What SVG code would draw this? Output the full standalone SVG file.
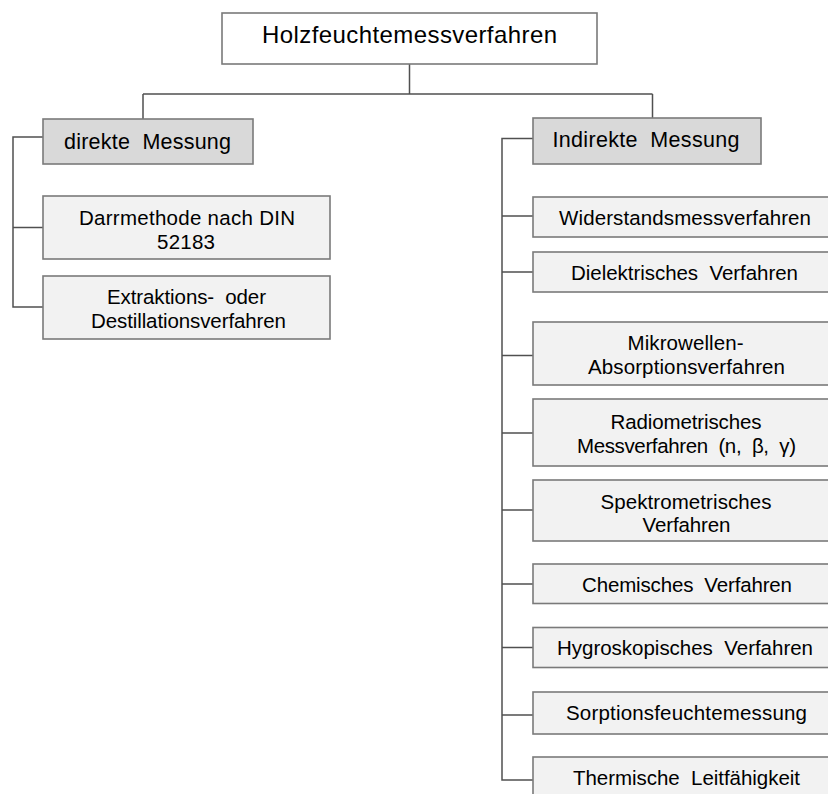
<svg xmlns="http://www.w3.org/2000/svg" width="828" height="794" viewBox="0 0 828 794">
<style>
.box{stroke:#7a7a7a;stroke-width:1.6}
.root{fill:#ffffff}
.mid{fill:#d9d9d9}
.leaf{fill:#f2f2f2}
text{font-family:"Liberation Sans",Arial,sans-serif;fill:#000;text-anchor:middle;white-space:pre}
.t1{font-size:24px}
.t2{font-size:21.5px}
.t3{font-size:20.5px}
.conn{fill:none;stroke:#505050;stroke-width:1.5}
</style>
<rect width="828" height="794" fill="#ffffff"/>
<g id="connectors">
<path class="conn" d="M409.5,64 V94 M143,94 H652.5 M143,94 V119 M652.5,94 V118"/>
<path class="conn" d="M43,137 H13 V307 H43 M13,227.5 H43"/>
<path class="conn" d="M533,138.5 H502 V780 H533 M502,216 H533 M502,272 H533 M502,355.5 H533 M502,433 H533 M502,510 H533 M502,584 H533 M502,647.5 H533 M502,715 H533"/>
</g>
<g id="root">
<rect class="box root" x="222" y="13" width="375" height="51"/>
<text class="t1" x="409.5" y="43" textLength="295" lengthAdjust="spacing">Holzfeuchtemessverfahren</text>
</g>
<g id="direkt">
<rect class="box mid" x="43" y="119" width="210" height="45"/>
<text class="t2" x="147.5" y="148.5" textLength="167" lengthAdjust="spacing">direkte  Messung</text>
</g>
<g id="indirekt">
<rect class="box mid" x="533" y="118" width="228" height="46"/>
<text class="t2" x="646" y="147" textLength="187" lengthAdjust="spacing">Indirekte  Messung</text>
</g>
<g id="darr">
<rect class="box leaf" x="43" y="196" width="287" height="63"/>
<text class="t3" x="187" y="225" textLength="216" lengthAdjust="spacing">Darrmethode nach DIN</text>
<text class="t3" x="186" y="249" textLength="58" lengthAdjust="spacing">52183</text>
</g>
<g id="extraktion">
<rect class="box leaf" x="43" y="276" width="287" height="63"/>
<text class="t3" x="186.5" y="304" textLength="159" lengthAdjust="spacing">Extraktions-  oder</text>
<text class="t3" x="188.5" y="328" textLength="195" lengthAdjust="spacing">Destillationsverfahren</text>
</g>
<g id="widerstand">
<rect class="box leaf" x="533" y="197" width="306" height="40"/>
<text class="t3" x="685" y="224.5" textLength="252" lengthAdjust="spacing">Widerstandsmessverfahren</text>
</g>
<g id="dielektrisch">
<rect class="box leaf" x="533" y="252" width="306" height="40"/>
<text class="t3" x="684.5" y="280" textLength="227" lengthAdjust="spacing">Dielektrisches  Verfahren</text>
</g>
<g id="mikrowellen">
<rect class="box leaf" x="533" y="322" width="306" height="63"/>
<text class="t3" x="685.5" y="350" textLength="116" lengthAdjust="spacing">Mikrowellen-</text>
<text class="t3" x="686.5" y="373.5" textLength="197" lengthAdjust="spacing">Absorptionsverfahren</text>
</g>
<g id="radiometrisch">
<rect class="box leaf" x="533" y="399" width="306" height="67"/>
<text class="t3" x="686" y="428.5" textLength="151" lengthAdjust="spacing">Radiometrisches</text>
<text class="t3" x="686.5" y="452.5" textLength="219" lengthAdjust="spacing">Messverfahren  (n,  β,  γ)</text>
</g>
<g id="spektrometrisch">
<rect class="box leaf" x="533" y="480" width="306" height="61"/>
<text class="t3" x="686" y="509" textLength="171" lengthAdjust="spacing">Spektrometrisches</text>
<text class="t3" x="686.5" y="532" textLength="88" lengthAdjust="spacing">Verfahren</text>
</g>
<g id="chemisch">
<rect class="box leaf" x="533" y="564" width="306" height="39.5"/>
<text class="t3" x="687" y="591.5" textLength="210" lengthAdjust="spacing">Chemisches  Verfahren</text>
</g>
<g id="hygroskopisch">
<rect class="box leaf" x="533" y="627.5" width="306" height="40"/>
<text class="t3" x="685" y="654.5" textLength="256" lengthAdjust="spacing">Hygroskopisches  Verfahren</text>
</g>
<g id="sorption">
<rect class="box leaf" x="533" y="692" width="306" height="42"/>
<text class="t3" x="686.5" y="719.5" textLength="241" lengthAdjust="spacing">Sorptionsfeuchtemessung</text>
</g>
<g id="thermisch">
<rect class="box leaf" x="533" y="757" width="306" height="60"/>
<text class="t3" x="686.5" y="785" textLength="227" lengthAdjust="spacing">Thermische  Leitfähigkeit</text>
</g>
</svg>
